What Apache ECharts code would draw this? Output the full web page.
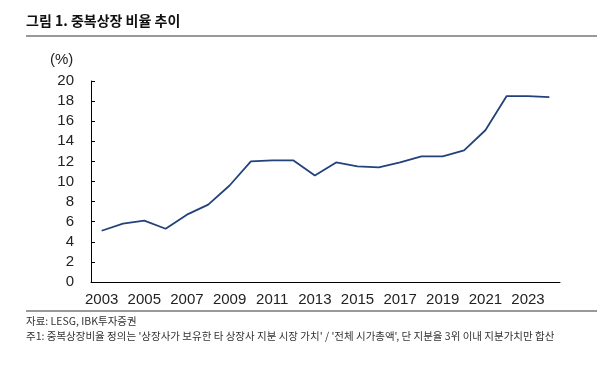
<!DOCTYPE html>
<html><head><meta charset="utf-8">
<script src="https://cdn.jsdelivr.net/npm/echarts@6/dist/echarts.min.js"></script>
<style>html,body{margin:0;padding:0;background:#fff}#c{width:616px;height:373px}</style>
</head><body><div id="c"></div>
<script>
const years = ['2003','2004','2005','2006','2007','2008','2009','2010','2011','2012','2013','2014','2015','2016','2017','2018','2019','2020','2021','2022','2023','2024'];
const ratio = [5.1,5.8,6.1,5.3,6.7,7.7,9.6,12.0,12.1,12.1,10.6,11.9,11.5,11.4,11.9,12.5,12.5,13.1,15.1,18.5,18.5,18.4];
const yTicks = {min:0, max:20, interval:2};
const title = '그림 1. 중복상장 비율 추이';
const source = '자료: LESG, IBK투자증권';
const note = "주1: 중복상장비율 정의는 '상장사가 보유한 타 상장사 지분 시장 가치' / '전체 시가총액', 단 지분율 3위 이내 지분가치만 합산";

const chart = echarts.init(document.getElementById('c'));
const ff = 'Liberation Sans, Arial, sans-serif';
chart.setOption({
  animation:false,
  grid:{left:91, right:56, top:81, bottom:91},
  graphic:[
    {type:'text', left:26, top:14, style:{text:title, font:'bold 14px "Noto Sans CJK KR"', fill:'#111'}},
    {type:'rect', shape:{x:26, y:35, width:571, height:2}, style:{fill:'#999'}},
    {type:'rect', shape:{x:26, y:310, width:571, height:2}, style:{fill:'#999'}},
    {type:'text', left:26, top:316, style:{text:source, font:'10.5px "Noto Sans CJK KR"', fill:'#333'}},
    {type:'text', left:26, top:331, style:{text:note, font:'10.5px "Noto Sans CJK KR"', fill:'#333'}},
    {type:'text', left:50, top:52, style:{text:'(%)', font:'15px '+ff, fill:'#222'}}
  ],
  xAxis:{type:'category', data:years, boundaryGap:true,
    axisLine:{lineStyle:{color:'#000', width:1}},
    axisTick:{inside:true, length:4, lineStyle:{color:'#000'}, interval:0},
    axisLabel:{interval:1, color:'#222', fontSize:15, fontFamily:ff, margin:10}},
  yAxis:{type:'value', min:yTicks.min, max:yTicks.max, interval:yTicks.interval,
    axisLine:{show:true, lineStyle:{color:'#000', width:1}},
    axisTick:{show:true, inside:true, length:4, lineStyle:{color:'#000'}},
    splitLine:{show:false},
    axisLabel:{color:'#222', fontSize:15, fontFamily:ff, margin:17}},
  series:[{type:'line', data:ratio, symbol:'none', lineStyle:{color:'#23427a', width:1.8}}]
});
</script></body></html>
